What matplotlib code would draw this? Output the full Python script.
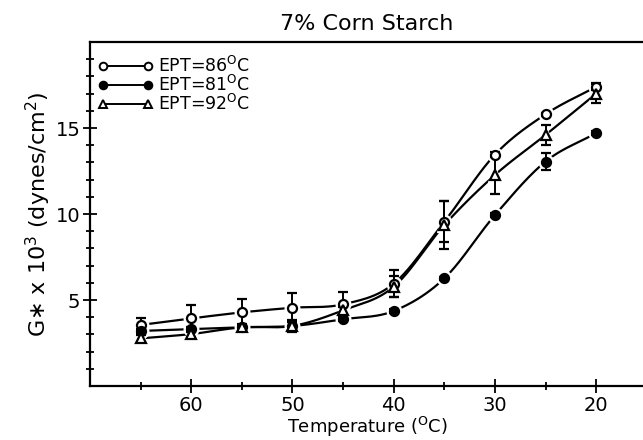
import numpy as np
import matplotlib
matplotlib.use("Agg")
import matplotlib.pyplot as plt
from matplotlib.lines import Line2D

temps = [65, 60, 55, 50, 45, 40, 35, 30, 25, 20]
g86 = [3.55, 3.93, 4.28, 4.55, 4.75, 5.95, 9.55, 13.45, 15.8, 17.4]
e86 = [0.4, 0.78, 0.78, 0.84, 0.73, 0.8, 1.2, 0.15, 0.1, 0.2]
g81 = [3.2, 3.31, 3.41, 3.49, 3.88, 4.36, 6.26, 9.94, 13.05, 14.7]
e81 = [0.1, 0.1, 0.1, 0.3, 0.1, 0.1, 0.1, 0.1, 0.5, 0.1]
g92 = [2.77, 3.02, 3.41, 3.49, 4.4, 5.77, 9.36, 12.27, 14.6, 17.0]
e92 = [0.2, 0.2, 0.2, 0.35, 0.2, 0.6, 1.4, 1.1, 0.6, 0.55]
labels = ["EPT=86$^{\\rm O}$C", "EPT=81$^{\\rm O}$C", "EPT=92$^{\\rm O}$C"]

plt.rcParams['font.family'] = ['DejaVu Sans']

def smooth(x, y, n=25):
    x = np.asarray(x, float); y = np.asarray(y, float)
    P = np.column_stack([x, y])
    P = np.vstack([2 * P[0] - P[1], P, 2 * P[-1] - P[-2]])
    out = []
    t = np.linspace(0, 1, n)
    for i in range(1, len(P) - 2):
        p0, p1, p2, p3 = P[i - 1], P[i], P[i + 1], P[i + 2]
        t2, t3 = t * t, t * t * t
        seg = 0.5 * ((2 * p1)[None, :] + np.outer(t, -p0 + p2)
                     + np.outer(t2, 2 * p0 - 5 * p1 + 4 * p2 - p3)
                     + np.outer(t3, -p0 + 3 * p1 - 3 * p2 + p3))
        out.append(seg)
    S = np.vstack(out)
    return S[:, 0], S[:, 1]

fig = plt.figure(figsize=(6.43, 4.40), dpi=100)
ax = fig.add_axes([90 / 643, (440 - 386) / 440, 1 - 90 / 643 + 0.002, (386 - 42) / 440])

series = [(g86, e86, 'o', 'white'), (g81, e81, 'o', 'black'), (g92, e92, '^', 'white')]
ms = 6.5
for k, (g, e, m, fc) in enumerate(series):
    sx, sy = smooth(temps, g)
    ax.plot(sx, sy, color='black', lw=1.6, zorder=2)
for k, (g, e, m, fc) in enumerate(series):
    ax.plot(temps, g, ls='none', marker=m, ms=ms + 4, mfc='white', mec='white', zorder=3 + k)
for k, (g, e, m, fc) in enumerate(series):
    ax.errorbar(temps, g, yerr=e, fmt='none', ecolor='black', elinewidth=1.4,
                capsize=3.5, capthick=1.6, zorder=7)
for k, (g, e, m, fc) in enumerate(series):
    mm = ms if m == 'o' else ms + 0.5
    ax.plot(temps, g, ls='none', marker=m, ms=mm, mfc=fc, mec='black', mew=1.6, zorder=8)

ax.set_xlim(70, 15.25)
ax.set_ylim(0, 20)
ax.set_xticks([60, 50, 40, 30, 20])
ax.set_xticks([65, 55, 45, 35, 25], minor=True)
ax.set_yticks([5, 10, 15])
ax.set_yticks([1, 2, 3, 4, 6, 7, 8, 9, 11, 12, 13, 14, 16, 17, 18, 19], minor=True)
ax.tick_params(which='major', direction='inout', length=10, width=1.3, labelsize=14, pad=2)
ax.tick_params(which='minor', direction='inout', length=6, width=1.3)
ax.spines['right'].set_visible(False)
for s in ['left', 'bottom', 'top']:
    ax.spines[s].set_linewidth(1.6)

ax.set_title('7% Corn Starch', fontsize=16, pad=9)
ax.set_xlabel('Temperature ($^{\\rm O}$C)', fontsize=13, labelpad=0)
ax.set_ylabel('G$\\ast$ x 10$^3$ (dynes/cm$^2$)', fontsize=16, labelpad=2)

handles = []
for (g, e, m, fc) in series:
    handles.append(Line2D([0], [0], color='black', lw=1.4, marker=m, ms=5.5,
                          mfc=fc, mec='black', mew=1.4))
leg = ax.legend(handles, labels, loc='upper left', bbox_to_anchor=(-0.002, 0.985),
                frameon=False, numpoints=2, handlelength=3.2, handletextpad=0.3,
                labelspacing=-0.05, fontsize=12.5, borderaxespad=0.2, borderpad=0.3)

fig.savefig('out.png', dpi=100)
